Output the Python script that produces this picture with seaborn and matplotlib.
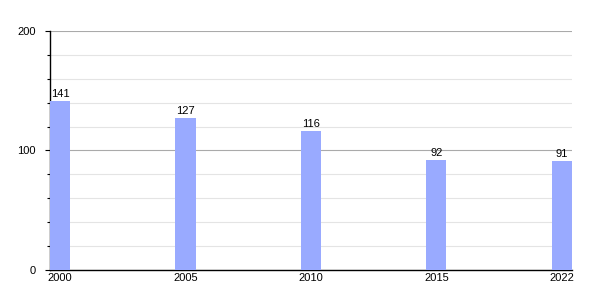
import matplotlib
matplotlib.use("Agg")
import matplotlib.pyplot as plt
import seaborn as sns
import pandas as pd
from matplotlib.ticker import MultipleLocator

years = ["2000", "2005", "2010", "2015", "2022"]
values = [141, 127, 116, 92, 91]

sns.set_style("white")
plt.rcParams['font.family'] = ['Liberation Sans', 'DejaVu Sans']
plt.rcParams['text.color'] = 'black'
plt.rcParams['xtick.color'] = 'black'
plt.rcParams['ytick.color'] = 'black'

df = pd.DataFrame({"year": years, "value": values})

fig = plt.figure(figsize=(6, 3), dpi=100)
ax = fig.add_axes([0.0833, 0.1, 0.87, 0.7967])

sns.barplot(data=df, x="year", y="value", color="#99aaff", width=0.16,
            saturation=1, ax=ax, zorder=3, linewidth=0, edgecolor="none")

ax.set_xlim(-0.08, 4.08)
ax.set_ylim(0, 200)
ax.yaxis.set_major_locator(MultipleLocator(100))
ax.yaxis.set_minor_locator(MultipleLocator(20))
ax.grid(which="major", axis="y", color="#aaaaaa", linewidth=0.8, zorder=0)
ax.grid(which="minor", axis="y", color="#e4e4e4", linewidth=0.8, zorder=0)
ax.set_axisbelow(True)

for s in ["top", "right"]:
    ax.spines[s].set_visible(False)
for s in ["left", "bottom"]:
    ax.spines[s].set_color("black")
    ax.spines[s].set_linewidth(1.0)

ax.tick_params(axis="y", which="major", length=3.8, width=0.8, color="black",
               labelcolor="black", labelsize=8, pad=6.5, left=True)
ax.tick_params(axis="y", which="minor", length=2.2, width=0.8, color="black", left=True)
ax.tick_params(axis="x", length=0, labelsize=8, pad=2, labelcolor="black")
ax.set_xlabel("")
ax.set_ylabel("")

for i, v in enumerate(values):
    ax.annotate(str(v), (i, v), xytext=(0, 1.5), textcoords="offset points",
                ha="center", va="bottom", fontsize=8, color="black")

fig.savefig("out.png", dpi=100)
